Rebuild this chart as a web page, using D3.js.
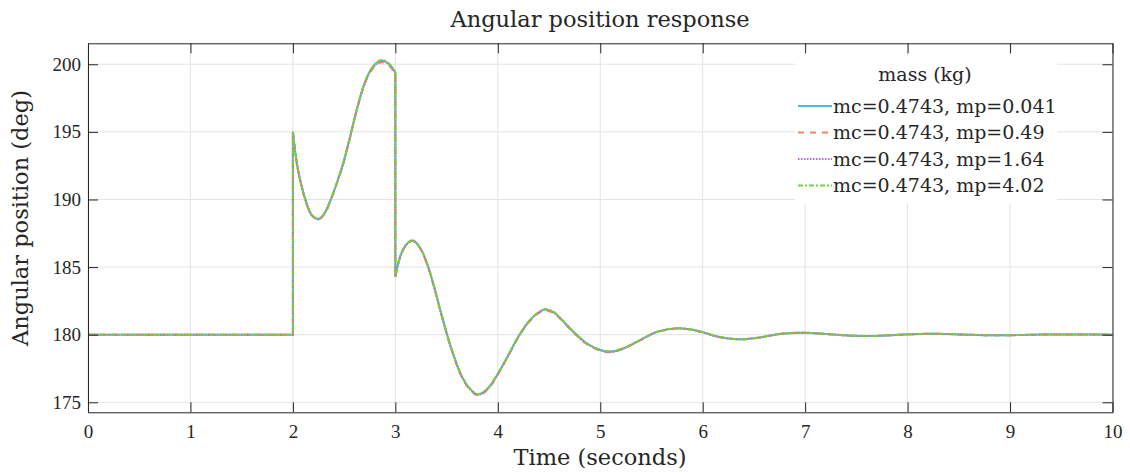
<!DOCTYPE html>
<html>
<head>
<meta charset="utf-8">
<script src="https://cdn.jsdelivr.net/npm/d3@7"></script>
<style>
  html, body { margin: 0; padding: 0; background: #fff; }
  svg { display: block; }
</style>
</head>
<body>
<svg id="chart"></svg>
<script>
// time samples (s); repeated values mark the jumps at t=2 and t=3
const times = [0, 2, 2, 2.04, 2.09, 2.13, 2.18, 2.25, 2.31, 2.38,
  2.43, 2.49, 2.56, 2.62, 2.69, 2.75, 2.82, 2.88, 2.95, 3.0,
  3.0, 3.05, 3.11, 3.17, 3.24, 3.31, 3.38, 3.45, 3.55, 3.65,
  3.74, 3.81, 3.9, 4.0, 4.1, 4.2, 4.3, 4.38, 4.46, 4.54,
  4.61, 4.74, 4.87, 5.0, 5.1, 5.23, 5.39, 5.55, 5.75, 5.91,
  6.04, 6.14, 6.36, 6.56, 6.75, 6.98, 7.21, 7.44, 7.67, 7.93,
  8.25, 8.58, 8.9, 9.23, 9.55, 10];

// angular position (deg) for each mass setting
const mp0041 = [180, 180, 195.0, 192.6, 190.85, 189.8, 188.9, 188.55, 189.0, 190.2,
  191.25, 192.65, 194.7, 196.55, 198.4, 199.45, 200.12, 200.28, 199.93, 199.38,
  184.3, 185.85, 186.7, 186.97, 186.45, 185.25, 183.5, 181.5, 178.9, 176.9,
  175.9, 175.58, 176.0, 177.1, 178.45, 179.85, 180.95, 181.55, 181.87, 181.68,
  181.22, 180.2, 179.35, 178.87, 178.75, 179.0, 179.6, 180.2, 180.47, 180.35,
  180.1, 179.87, 179.66, 179.8, 180.05, 180.15, 180.05, 179.93, 179.9, 180.0,
  180.07, 180.0, 179.95, 180.0, 180.02, 180.0];
const mp049 = [180, 180, 195.0, 192.6, 190.8, 189.75, 188.85, 188.5, 188.95, 190.15,
  191.2, 192.6, 194.65, 196.5, 198.3, 199.35, 200.0, 200.15, 199.82, 199.3,
  184.25, 185.8, 186.65, 186.92, 186.4, 185.2, 183.45, 181.45, 178.85, 176.85,
  175.83, 175.5, 175.95, 177.05, 178.4, 179.8, 180.9, 181.5, 181.8, 181.62,
  181.17, 180.15, 179.3, 178.82, 178.7, 178.97, 179.58, 180.18, 180.45, 180.33,
  180.08, 179.86, 179.65, 179.8, 180.05, 180.14, 180.05, 179.93, 179.9, 180.0,
  180.07, 180.0, 179.95, 180.0, 180.02, 180.0];
const mp164 = [180, 180, 195.0, 192.6, 190.82, 189.77, 188.87, 188.52, 188.97, 190.17,
  191.22, 192.62, 194.67, 196.52, 198.35, 199.4, 200.06, 200.22, 199.88, 199.34,
  184.27, 185.82, 186.67, 186.94, 186.42, 185.22, 183.47, 181.47, 178.87, 176.87,
  175.86, 175.54, 175.97, 177.07, 178.42, 179.82, 180.92, 181.52, 181.84, 181.65,
  181.2, 180.18, 179.32, 178.85, 178.72, 178.98, 179.59, 180.19, 180.46, 180.34,
  180.09, 179.86, 179.66, 179.8, 180.05, 180.15, 180.05, 179.93, 179.9, 180.0,
  180.07, 180.0, 179.95, 180.0, 180.02, 180.0];
const mp402 = [180, 180, 195.0, 192.6, 190.86, 189.82, 188.92, 188.57, 189.02, 190.22,
  191.27, 192.67, 194.72, 196.58, 198.42, 199.48, 200.15, 200.31, 199.96, 199.4,
  184.3, 185.87, 186.72, 187.0, 186.47, 185.27, 183.52, 181.52, 178.92, 176.92,
  175.92, 175.6, 176.02, 177.12, 178.47, 179.87, 180.97, 181.57, 181.89, 181.7,
  181.24, 180.21, 179.36, 178.88, 178.76, 179.01, 179.61, 180.21, 180.48, 180.36,
  180.1, 179.87, 179.66, 179.8, 180.05, 180.15, 180.05, 179.93, 179.9, 180.0,
  180.07, 180.0, 179.95, 180.0, 180.02, 180.0];

const seriesNames = ["mc=0.4743, mp=0.041", "mc=0.4743, mp=0.49", "mc=0.4743, mp=1.64", "mc=0.4743, mp=4.02"];
const seriesValues = [mp0041, mp049, mp164, mp402];
const seriesColors = ["#4db8f0", "#f5845a", "#c060f0", "#70d62c"];
const seriesDash = [null, "6,6", "1.5,1.5", "5,2,2,2"];

const xTicks = [0, 1, 2, 3, 4, 5, 6, 7, 8, 9, 10];
const yTicks = [175, 180, 185, 190, 195, 200];

const width = 1130, height = 473;
const plot = { left: 88, right: 1112.5, top: 43.3, bottom: 412.3 };
const axisColor = "#262626";
const tickFont = "'Liberation Serif', 'Times New Roman', serif";
const labelFont = "'DejaVu Serif', serif";

const svg = d3.select("#chart").attr("width", width).attr("height", height)
  .style("font-family", labelFont);

const x = d3.scaleLinear().domain([0, 10]).range([plot.left, plot.right]);
const y = d3.scaleLinear().domain([174.26, 201.55]).range([plot.bottom, plot.top]);

// grid
const grid = svg.append("g").attr("stroke", "#e3e3e3").attr("stroke-width", 1);
grid.selectAll(".gx").data(xTicks).join("line")
  .attr("x1", d => x(d)).attr("x2", d => x(d)).attr("y1", plot.top).attr("y2", plot.bottom);
grid.selectAll(".gy").data(yTicks).join("line")
  .attr("x1", plot.left).attr("x2", plot.right).attr("y1", d => y(d)).attr("y2", d => y(d));

// lines, split at the jumps and joined again with vertical segments
function pathFor(vals) {
  const pts = times.map((t, i) => [t, vals[i]]);
  const pieces = [];
  let cur = [pts[0]];
  for (let i = 1; i < pts.length; i++) {
    if (pts[i][0] === pts[i - 1][0]) { pieces.push(cur); cur = []; }
    cur.push(pts[i]);
  }
  pieces.push(cur);
  const line = d3.line().x(d => x(d[0])).y(d => y(d[1])).curve(d3.curveCatmullRom.alpha(0.5));
  return pieces.map((p, i) => {
    const s = line(p);
    return i === 0 ? s : "L" + s.slice(1);
  }).join("");
}

seriesValues.forEach((vals, i) => {
  svg.append("path")
    .attr("d", pathFor(vals))
    .attr("fill", "none")
    .attr("stroke", seriesColors[i])
    .attr("stroke-width", 2)
    .attr("stroke-dasharray", seriesDash[i]);
});

// axes with inward ticks on all four sides
function styleAxis(g) {
  g.select(".domain").attr("stroke", axisColor);
  g.selectAll(".tick line").attr("stroke", axisColor);
  g.selectAll(".tick text").attr("fill", axisColor).style("font-family", tickFont).style("font-size", "19px");
}

svg.append("g").attr("transform", `translate(0,${plot.bottom})`)
  .call(d3.axisBottom(x).tickValues(xTicks).tickSize(-10).tickSizeOuter(0).tickPadding(12))
  .call(styleAxis);
svg.append("g").attr("transform", `translate(${plot.left},0)`)
  .call(d3.axisLeft(y).tickValues(yTicks).tickSize(-10).tickSizeOuter(0).tickPadding(7))
  .call(styleAxis);
svg.append("g").attr("transform", `translate(0,${plot.top})`)
  .call(d3.axisTop(x).tickValues(xTicks).tickSize(-10).tickSizeOuter(0).tickFormat(""))
  .call(styleAxis);
svg.append("g").attr("transform", `translate(${plot.right},0)`)
  .call(d3.axisRight(y).tickValues(yTicks).tickSize(-10).tickSizeOuter(0).tickFormat(""))
  .call(styleAxis);

// legend
const lg = svg.append("g");
lg.append("rect").attr("x", 795).attr("y", 56).attr("width", 262).attr("height", 148).attr("fill", "#fff");
lg.append("text").attr("x", 925).attr("y", 81).attr("text-anchor", "middle")
  .attr("fill", axisColor).style("font-size", "19px").text("mass (kg)");
seriesNames.forEach((name, i) => {
  const yy = 106 + i * 26.5;
  lg.append("line").attr("x1", 798).attr("x2", 832).attr("y1", yy).attr("y2", yy)
    .attr("stroke", seriesColors[i]).attr("stroke-width", 2).attr("stroke-dasharray", seriesDash[i]);
  lg.append("text").attr("x", 833).attr("y", yy + 6.5)
    .attr("fill", axisColor).style("font-size", "19px").text(name);
});

// titles
svg.append("text").attr("x", 600).attr("y", 27).attr("text-anchor", "middle")
  .attr("fill", axisColor).style("font-size", "22.5px").text("Angular position response");
svg.append("text").attr("x", 600).attr("y", 465).attr("text-anchor", "middle")
  .attr("fill", axisColor).style("font-size", "22.5px").text("Time (seconds)");
svg.append("text").attr("transform", "translate(28,218) rotate(-90)").attr("text-anchor", "middle")
  .attr("fill", axisColor).style("font-size", "22.5px").text("Angular position (deg)");
</script>
</body>
</html>
